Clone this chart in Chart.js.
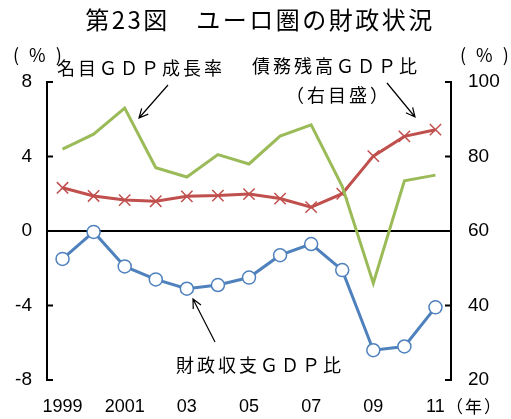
<!DOCTYPE html>
<html>
<head>
<meta charset="utf-8">
<script src="https://cdn.jsdelivr.net/npm/chart.js@4"></script>
<style>
  html, body { margin: 0; padding: 0; background: #fff; }
  #wrap { width: 511px; height: 419px; }
</style>
</head>
<body>
<div id="wrap"><canvas id="chart" width="511" height="419"></canvas></div>
<script>
    // 年（横軸のラベル）
    const years = ['1999', '2000', '2001', '02', '03', '04', '05', '06', '07', '08', '09', '10', '11'];
    const shownYears = ['1999', '2001', '03', '05', '07', '09', '11'];

    // 名目GDP成長率（左目盛、%）
    const gdpGrowth = [4.4, 5.2, 6.6, 3.4, 2.9, 4.1, 3.6, 5.1, 5.7, 2.4, -2.8, 2.7, 3.0];
    // 財政収支GDP比（左目盛、%）
    const balance = [-1.5, -0.05, -1.9, -2.6, -3.1, -2.9, -2.5, -1.3, -0.7, -2.1, -6.4, -6.2, -4.1];
    // 債務残高GDP比（右目盛、%）
    const debt = [71.6, 69.4, 68.3, 68.0, 69.3, 69.5, 69.9, 68.7, 66.4, 70.0, 80.1, 85.4, 87.2];

    const leftTicks = [-8, -4, 0, 4, 8];
    const rightTicks = [20, 40, 60, 80, 100];

    const FONT = '"Liberation Sans", Arial, sans-serif';
    const JP = '"Noto Sans CJK JP", sans-serif';

    // 文字列を描く（字間つき）
    function drawText(ctx, text, x, y, size, spacing, align) {
      ctx.save();
      ctx.font = size + 'px ' + JP;
      ctx.fillStyle = '#000';
      ctx.textBaseline = 'middle';
      ctx.textAlign = 'left';
      ctx.letterSpacing = spacing + 'px';
      let w = ctx.measureText(text).width;
      let sx = x;
      if (align === 'center') sx = x - w / 2;
      ctx.fillText(text, sx, y);
      ctx.restore();
    }

    // 矢印
    function arrow(ctx, x1, y1, x2, y2) {
      const a = Math.atan2(y2 - y1, x2 - x1);
      const h = 10;
      ctx.save();
      ctx.strokeStyle = '#000';
      ctx.lineWidth = 1.2;
      ctx.beginPath();
      ctx.moveTo(x1, y1);
      ctx.lineTo(x2, y2);
      ctx.moveTo(x2 - h * Math.cos(a - 0.45), y2 - h * Math.sin(a - 0.45));
      ctx.lineTo(x2, y2);
      ctx.lineTo(x2 - h * Math.cos(a + 0.45), y2 - h * Math.sin(a + 0.45));
      ctx.stroke();
      ctx.restore();
    }

    const labelsPlugin = {
      id: 'labels',
      afterDraw(chart) {
        const ctx = chart.ctx;
        const y = chart.scales.y;
        const y2 = chart.scales.y2;

        // 目盛の内向きのひげ
        ctx.save();
        ctx.strokeStyle = '#000';
        ctx.lineWidth = 2;
        ctx.beginPath();
        leftTicks.forEach(v => {
          const py = y.getPixelForValue(v);
          ctx.moveTo(y.right, py);
          ctx.lineTo(y.right + 6, py);
        });
        rightTicks.forEach(v => {
          const py = y2.getPixelForValue(v);
          ctx.moveTo(y2.left, py);
          ctx.lineTo(y2.left - 6, py);
        });
        ctx.stroke();
        ctx.restore();

        // タイトル
        drawText(ctx, '第23図　ユーロ圏の財政状況', 260, 20, 24, 2.5, 'center');

        drawText(ctx, '(%)', 13, 55, 18, 10, 'left');
        drawText(ctx, '(%)', 460, 55, 18, 10, 'left');
        drawText(ctx, '（年）', 446, 407, 17, 2, 'left');

        drawText(ctx, '名目ＧＤＰ成長率', 57, 68, 18, 3, 'left');
        drawText(ctx, '債務残高ＧＤＰ比', 252, 66, 18, 3, 'left');
        drawText(ctx, '（右目盛）', 286, 95, 18, 3, 'left');
        drawText(ctx, '財政収支ＧＤＰ比', 176, 365, 18, 3, 'left');

        arrow(ctx, 168, 85, 139, 118);
        arrow(ctx, 387, 83, 415, 117);
        arrow(ctx, 215, 342, 193, 299);
      }
    };

    const ctx = document.getElementById('chart').getContext('2d');
    const chart = new Chart(ctx, {
      type: 'line',
      data: {
        labels: years,
        datasets: [
          {
            label: '名目GDP成長率',
            data: gdpGrowth,
            yAxisID: 'y',
            borderColor: '#9BBB59',
            borderWidth: 3,
            pointRadius: 0,
            tension: 0,
            order: 1,
          },
          {
            label: '債務残高GDP比',
            data: debt,
            yAxisID: 'y2',
            borderColor: '#C0504D',
            borderWidth: 3,
            pointStyle: 'crossRot',
            pointRadius: 8,
            pointBorderWidth: 1.5,
            pointBorderColor: '#C0504D',
            tension: 0,
            order: 2,
          },
          {
            label: '財政収支GDP比',
            data: balance,
            yAxisID: 'y',
            borderColor: '#4F81BD',
            borderWidth: 3,
            pointStyle: 'circle',
            pointRadius: 6.5,
            pointBackgroundColor: '#fff',
            pointBorderColor: '#4F81BD',
            pointBorderWidth: 1.5,
            tension: 0,
            order: 0,
          },
        ],
      },
      options: {
        responsive: false,
        animation: false,
        devicePixelRatio: 1,
        layout: { padding: { top: 82, left: 0, right: 0, bottom: 0 } },
        plugins: {
          legend: { display: false },
          title: { display: false },
          tooltip: { enabled: false },
        },
        scales: {
          x: {
            offset: true,
            grid: { display: false, drawTicks: false },
            border: { display: false },
            ticks: {
              autoSkip: false,
              maxRotation: 0,
              padding: 16,
              color: '#000',
              font: { family: FONT, size: 18 },
              callback: function (v, i) {
                const l = years[i];
                return shownYears.includes(l) ? l : '';
              },
            },
            afterFit: s => { s.height = 39; },
          },
          y: {
            position: 'left',
            min: -8,
            max: 8,
            afterBuildTicks: s => { s.ticks = leftTicks.map(v => ({ value: v })); },
            grid: {
              drawTicks: false,
              color: c => (c.tick && c.tick.value === 0 ? '#000' : 'rgba(0,0,0,0)'),
              lineWidth: 2,
            },
            border: { display: true, color: '#000', width: 2 },
            ticks: {
              padding: 15,
              color: '#000',
              font: { family: FONT, size: 19 },
            },
            afterFit: s => { s.width = 47; },
          },
          y2: {
            position: 'right',
            min: 20,
            max: 100,
            afterBuildTicks: s => { s.ticks = rightTicks.map(v => ({ value: v })); },
            grid: { display: false, drawTicks: false },
            border: { display: true, color: '#000', width: 2 },
            ticks: {
              padding: 17,
              color: '#000',
              font: { family: FONT, size: 19 },
            },
            afterFit: s => { s.width = 60; },
          },
        },
      },
      plugins: [labelsPlugin],
    });
</script>
</body>
</html>
